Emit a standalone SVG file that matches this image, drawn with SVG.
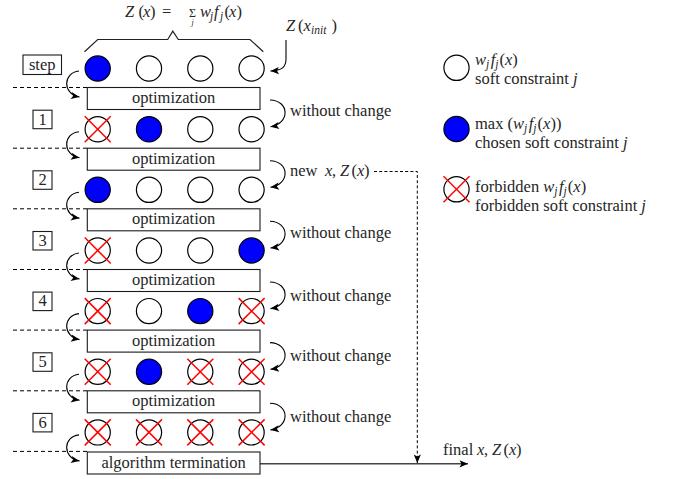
<svg xmlns="http://www.w3.org/2000/svg" width="678" height="479" viewBox="0 0 678 479" font-family="Liberation Serif, DejaVu Serif, Times New Roman, serif">
<style>
text { font-size: 16.5px; fill: #262626; }
.i { font-style: italic; }
.s { font-size: 11.5px; font-style: italic; }
.sm { font-size: 12px; }
.mid { text-anchor: middle; }
.box { fill: #fff; stroke: #1a1a1a; stroke-width: 1.1; }
.cw { fill: #fff; stroke: #000; stroke-width: 1.2; }
.cb { fill: #0000ff; stroke: #000; stroke-width: 1.2; }
.xl { stroke: #ff0000; stroke-width: 1.5; }
.arr { fill: none; stroke: #000; stroke-width: 1.1; marker-end: url(#ah); }
.dash { fill: none; stroke: #000; stroke-width: 1; stroke-dasharray: 4 3; }
</style>
<defs>
<marker id="ah" viewBox="-9 -4 10 8" refX="0" refY="0" markerWidth="10" markerHeight="8" markerUnits="userSpaceOnUse" orient="auto">
<path d="M0,0 L-8.5,-3.6 L-6.5,0 L-8.5,3.6 Z" fill="#000"/>
</marker>
<g id="w"><circle r="12.6" class="cw"/></g>
<g id="b"><circle r="12.6" class="cb"/></g>
<g id="x"><circle r="12.6" class="cw"/><line x1="-13" y1="-13" x2="13" y2="13" class="xl"/><line x1="-13" y1="13" x2="13" y2="-13" class="xl"/></g>
</defs>
<rect width="678" height="479" fill="#fff"/>

<g id="formula">
<polyline points="84.5,51.7 97.7,39.5 167.7,39.5 172.8,31.2 178.3,39.5 250,39.5 263.3,51.7" fill="none" stroke="#222" stroke-width="1.2"/>
<text y="16.5"><tspan class="i" x="125">Z</tspan><tspan x="138.5">(</tspan><tspan class="i" x="143">x</tspan><tspan x="150">)</tspan><tspan x="162">=</tspan><tspan class="sm" x="189">Σ</tspan><tspan class="i" x="200">w</tspan><tspan class="s" x="210" dy="3">j</tspan><tspan class="i" x="214" dy="-3">f</tspan><tspan class="s" x="220" dy="3">j</tspan><tspan x="224.5" dy="-3">(</tspan><tspan class="i" x="229">x</tspan><tspan x="236.5">)</tspan></text>
<text x="191.5" y="25" class="i" style="font-size:8px">j</text>
</g>
<g id="zinit">
<text y="31"><tspan class="i" x="286">Z</tspan><tspan x="298">(</tspan><tspan class="i" x="303.5">x</tspan><tspan class="s" x="311" dy="3">init</tspan><tspan x="331.5" dy="-3">)</tspan></text>
</g>

<g id="labels">
<rect x="23" y="55" width="38.5" height="19.5" class="box"/><text x="42.2" y="70" class="mid">step</text>
<rect x="33" y="110.2" width="19" height="18.5" class="box"/><text x="42.5" y="124.5" class="mid">1</text>
<rect x="33" y="170.8" width="19" height="18.5" class="box"/><text x="42.5" y="185" class="mid">2</text>
<rect x="33" y="231.5" width="19" height="18.5" class="box"/><text x="42.5" y="245.7" class="mid">3</text>
<rect x="33" y="292.1" width="19" height="18.5" class="box"/><text x="42.5" y="306.3" class="mid">4</text>
<rect x="33" y="352.8" width="19" height="18.5" class="box"/><text x="42.5" y="367" class="mid">5</text>
<rect x="33" y="413.4" width="19" height="18.5" class="box"/><text x="42.5" y="427.6" class="mid">6</text>
</g>

<g id="connectors">
<path class="dash" d="M13,87.5 H87 M13,148.2 H87 M13,208.8 H87 M13,269.5 H87 M13,330.1 H87 M13,390.8 H87 M13,451.4 H87"/>
<path class="arr" d="M79,71 C63,72.5 62,94 79.5,97"/>
<path class="arr" d="M79,131.7 C63,133.2 62,154.7 79.5,157.7"/>
<path class="arr" d="M79,192.3 C63,193.8 62,215.3 79.5,218.3"/>
<path class="arr" d="M79,253 C63,254.5 62,276 79.5,279"/>
<path class="arr" d="M79,313.6 C63,315.1 62,336.6 79.5,339.6"/>
<path class="arr" d="M79,374.3 C63,375.8 62,397.3 79.5,400.3"/>
<path class="arr" d="M79,434.9 C63,436.4 62,457.9 79.5,460.9"/>
<path class="arr" d="M286,40 V59 C286,67 282,70.5 270.5,71"/>
<path class="arr" d="M270,100 C290,100.5 290,124 270.5,126.7"/>
<path class="arr" d="M270,160.7 C290,161.2 290,184.6 270.5,187.3"/>
<path class="arr" d="M270,221.3 C290,221.8 290,245.3 270.5,248"/>
<path class="arr" d="M270,282 C290,282.5 290,305.9 270.5,308.6"/>
<path class="arr" d="M270,342.6 C290,343.1 290,366.6 270.5,369.3"/>
<path class="arr" d="M270,403.3 C290,403.8 290,427.2 270.5,429.9"/>
<path d="M374,171.5 H417.3 V463" fill="none" stroke="#000" stroke-width="1" stroke-dasharray="3 2.2" marker-end="url(#ah)"/>
<path d="M260,463.8 H468" fill="none" stroke="#444" stroke-width="1.5" marker-end="url(#ah)"/>
</g>

<g id="row0"><use href="#b" x="97.7" y="68.5"/><use href="#w" x="149" y="68.5"/><use href="#w" x="200.3" y="68.5"/><use href="#w" x="251.6" y="68.5"/></g>
<g id="row1"><use href="#x" x="97.7" y="129.2"/><use href="#b" x="149" y="129.2"/><use href="#w" x="200.3" y="129.2"/><use href="#w" x="251.6" y="129.2"/></g>
<g id="row2"><use href="#b" x="97.7" y="189.8"/><use href="#w" x="149" y="189.8"/><use href="#w" x="200.3" y="189.8"/><use href="#w" x="251.6" y="189.8"/></g>
<g id="row3"><use href="#x" x="97.7" y="250.5"/><use href="#w" x="149" y="250.5"/><use href="#w" x="200.3" y="250.5"/><use href="#b" x="251.6" y="250.5"/></g>
<g id="row4"><use href="#x" x="97.7" y="311.1"/><use href="#w" x="149" y="311.1"/><use href="#b" x="200.3" y="311.1"/><use href="#x" x="251.6" y="311.1"/></g>
<g id="row5"><use href="#x" x="97.7" y="371.8"/><use href="#b" x="149" y="371.8"/><use href="#x" x="200.3" y="371.8"/><use href="#x" x="251.6" y="371.8"/></g>
<g id="row6"><use href="#x" x="97.7" y="432.4"/><use href="#x" x="149" y="432.4"/><use href="#x" x="200.3" y="432.4"/><use href="#x" x="251.6" y="432.4"/></g>

<g id="opt1"><rect x="87.3" y="87.5" width="172.7" height="22" class="box"/><text x="173.6" y="103" class="mid">optimization</text></g>
<g id="opt2"><rect x="87.3" y="148.2" width="172.7" height="22" class="box"/><text x="173.6" y="163.7" class="mid">optimization</text></g>
<g id="opt3"><rect x="87.3" y="208.8" width="172.7" height="22" class="box"/><text x="173.6" y="224.3" class="mid">optimization</text></g>
<g id="opt4"><rect x="87.3" y="269.5" width="172.7" height="22" class="box"/><text x="173.6" y="285" class="mid">optimization</text></g>
<g id="opt5"><rect x="87.3" y="330.1" width="172.7" height="22" class="box"/><text x="173.6" y="345.6" class="mid">optimization</text></g>
<g id="opt6"><rect x="87.3" y="390.8" width="172.7" height="22" class="box"/><text x="173.6" y="406.3" class="mid">optimization</text></g>
<g id="term"><rect x="87.3" y="452" width="172.7" height="22" class="box"/><text x="173.6" y="467.5" class="mid">algorithm termination</text></g>

<g id="arrowlabels">
<text x="290" y="116">without change</text>
<text y="175.5"><tspan x="290">new </tspan><tspan class="i" x="325">x</tspan><tspan x="332">,</tspan><tspan class="i" x="340">Z</tspan><tspan x="351.5">(</tspan><tspan class="i" x="357">x</tspan><tspan x="364">)</tspan></text>
<text x="290" y="238">without change</text>
<text x="290" y="300.7">without change</text>
<text x="290" y="361.3">without change</text>
<text x="290" y="421.7">without change</text>
<text y="455"><tspan x="443">final </tspan><tspan class="i" x="477">x</tspan><tspan x="484">,</tspan><tspan class="i" x="492">Z</tspan><tspan x="503.5">(</tspan><tspan class="i" x="509">x</tspan><tspan x="516">)</tspan></text>
</g>

<g id="legend1"><use href="#w" x="456.5" y="67.8"/>
<text y="65"><tspan class="i" x="475">w</tspan><tspan class="s" dy="3">j</tspan><tspan class="i" dx="1.5" dy="-3">f</tspan><tspan class="s" dy="3">j</tspan><tspan dx="1" dy="-3">(</tspan><tspan class="i">x</tspan><tspan>)</tspan></text>
<text x="475" y="84">soft constraint <tspan class="i">j</tspan></text></g>
<g id="legend2"><use href="#b" x="456.5" y="129"/>
<text y="128.5"><tspan x="475">max </tspan><tspan>(</tspan><tspan class="i">w</tspan><tspan class="s" dy="3">j</tspan><tspan class="i" dx="1.5" dy="-3">f</tspan><tspan class="s" dy="3">j</tspan><tspan dx="1" dy="-3">(</tspan><tspan class="i">x</tspan><tspan>))</tspan></text>
<text x="475" y="147.5">chosen soft constraint <tspan class="i">j</tspan></text></g>
<g id="legend3"><use href="#x" x="456.5" y="189.3"/>
<text y="192"><tspan x="475">forbidden </tspan><tspan class="i">w</tspan><tspan class="s" dy="3">j</tspan><tspan class="i" dx="1.5" dy="-3">f</tspan><tspan class="s" dy="3">j</tspan><tspan dx="1" dy="-3">(</tspan><tspan class="i">x</tspan><tspan>)</tspan></text>
<text x="475" y="211">forbidden soft constraint <tspan class="i">j</tspan></text></g>
</svg>
